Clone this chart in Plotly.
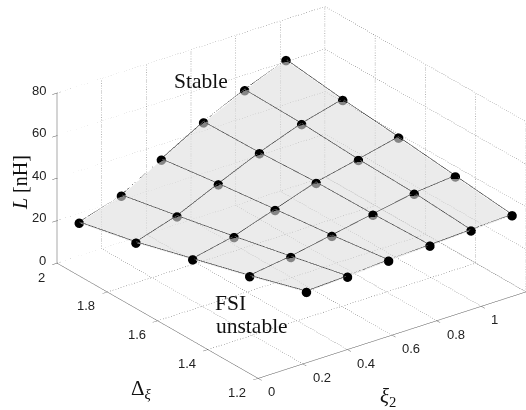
import plotly.graph_objects as go

# Achsen
xi_ticks = [0, 0.2, 0.4, 0.6, 0.8, 1]
delta_ticks = [1.2, 1.4, 1.6, 1.8, 2]
L_ticks = [0, 20, 40, 60, 80]

# Messpunkte, eine Zeile pro Delta-Wert
delta_vals = [2.0, 1.8, 1.6, 1.4, 1.2]
xi_vals = [
    [0.099, 0.288, 0.467, 0.656, 0.840, 1.025],
    [0.128, 0.312, 0.497, 0.681, 0.870, 1.054],
    [0.157, 0.342, 0.526, 0.710, 0.899, 1.079],
    [0.187, 0.371, 0.555, 0.739, 0.924, 1.108],
    [0.216, 0.400, 0.584, 0.769, 0.953, 1.137],
]
L_vals = [
    [15.5, 21.8, 32.7, 43.8, 52.7, 60.6],
    [18.7, 24.8, 33.6, 42.0, 49.3, 54.4],
    [23.4, 27.6, 34.1, 40.6, 45.0, 49.4],
    [28.0, 30.8, 34.5, 38.2, 41.8, 43.7],
    [33.2, 34.1, 35.4, 36.2, 37.1, 38.0],
]

XI_MAX = 1.2
DELTA_MIN = 1.2
DELTA_MAX = 2
L_MAX = 80

fig = go.Figure()


def add_line(xs, ys, zs, color, width, dash="solid", opacity=1):
    fig.add_trace(go.Scatter3d(x=xs, y=ys, z=zs, mode="lines", showlegend=False, hoverinfo="skip",
                               opacity=opacity, line=dict(color=color, width=width, dash=dash)))


# gepunktetes Gitter auf Boden und Rueckwaenden
GRID = "#666666"
for xi in xi_ticks + [XI_MAX]:
    add_line([xi, xi, xi], [DELTA_MIN, DELTA_MAX, DELTA_MAX], [0, 0, L_MAX], GRID, 1, "dot")
for d in delta_ticks:
    add_line([0, XI_MAX, XI_MAX], [d, d, d], [0, 0, L_MAX], GRID, 1, "dot")
for z in L_ticks:
    add_line([0, XI_MAX, XI_MAX], [DELTA_MAX, DELTA_MAX, DELTA_MIN], [z, z, z], GRID, 1, "dot")

# Flaeche
fig.add_trace(go.Surface(
    x=xi_vals, y=[[d] * 6 for d in delta_vals], z=L_vals,
    surfacecolor=[[0] * 6 for d in delta_vals], colorscale=[[0, "#dedede"], [1, "#dedede"]],
    showscale=False, opacity=0.6, hoverinfo="skip",
    lighting=dict(ambient=1, diffuse=0, specular=0, roughness=1, fresnel=0),
))

# Netzlinien der Flaeche, opacity < 1 damit sie nach der Flaeche gezeichnet werden (z-fighting)
MESH = "#555555"
LIFT = 0.6
for i in range(5):
    add_line(xi_vals[i], [delta_vals[i]] * 6, [v + LIFT for v in L_vals[i]], MESH, 1.5, opacity=0.99)
for k in range(6):
    add_line([r[k] for r in xi_vals], delta_vals, [r[k] + LIFT for r in L_vals], MESH, 1.5, opacity=0.99)

fig.add_trace(go.Scatter3d(
    x=[v for r in xi_vals for v in r],
    y=[d for d in delta_vals for _ in range(6)],
    z=[v for r in L_vals for v in r],
    mode="markers", showlegend=False, hoverinfo="skip",
    marker=dict(color="black", size=5.5, line=dict(width=0)),
))

axis_style = dict(showbackground=False, showgrid=False, zeroline=False, showspikes=False,
                  showline=True, linecolor="#555555", linewidth=1, ticks="outside", ticklen=6,
                  tickcolor="#555555", showticklabels=False, title=dict(text=""))

direction = (-0.542, -0.722, 0.43)
center = (-0.1271, 0.0625, -0.0551)
D = 2.0
ZOOM = 1.634


def note(text, px, py, size=21.5, angle=0):
    return dict(text=text, x=px / 526, y=1 - py / 410, xref="paper", yref="paper", showarrow=False,
                xanchor="center", yanchor="middle", textangle=angle,
                font=dict(family="Liberation Serif", size=size, color="#111111"))


def tick_label(text, x, y, z, anchor, dx, dy):
    return dict(text=text, x=x, y=y, z=z, showarrow=False, xanchor=anchor, yanchor="middle", xshift=dx, yshift=dy,
                font=dict(family="Liberation Sans", size=13, color="#222222"))


# Tick-Beschriftung als Szenen-Annotation, die gl3d-Labels ueberlappen bei 0 und 2
scene_labels = (
    [tick_label(f"{v:g}", v, DELTA_MIN, 0, "left", 8, -13.5) for v in xi_ticks]
    + [tick_label(f"{v:g}", 0, v, 0, "right", -10, -14) for v in delta_ticks]
    + [tick_label(f"{v:g}", 0, DELTA_MAX, v, "right", -9, 3) for v in L_ticks]
)

fig.update_layout(
    width=526, height=410, margin=dict(l=0, r=0, t=0, b=0), paper_bgcolor="white",
    scene=dict(
        xaxis=dict(axis_style, range=[0, XI_MAX], tickvals=xi_ticks),
        yaxis=dict(axis_style, range=[DELTA_MIN, DELTA_MAX], tickvals=delta_ticks),
        zaxis=dict(axis_style, range=[0, L_MAX], tickvals=L_ticks),
        aspectmode="manual", aspectratio=dict(x=ZOOM, y=ZOOM, z=0.5625 * ZOOM),
        camera=dict(
            projection=dict(type="orthographic"),
            up=dict(x=0, y=0, z=1),
            center=dict(x=center[0], y=center[1], z=center[2]),
            eye=dict(x=center[0] + D * direction[0], y=center[1] + D * direction[1], z=center[2] + D * direction[2]),
        ),
        annotations=scene_labels,
    ),
    annotations=[
        note("Stable", 201, 81),
        note("FSI", 230, 303),
        note("unstable", 252, 326),
        note("<i>L</i> [nH]", 20, 183, 20, -90),
        note("Δ<sub><i>ξ</i></sub>", 141, 389, 21),
        note("<i>ξ</i><sub>2</sub>", 388, 397, 21),
    ],
)

# body-Rand weg, sonst sitzt alles 8 px versetzt
fig.write_html("out.html", config={"displayModeBar": False}, post_script="document.body.style.margin = '0';")
